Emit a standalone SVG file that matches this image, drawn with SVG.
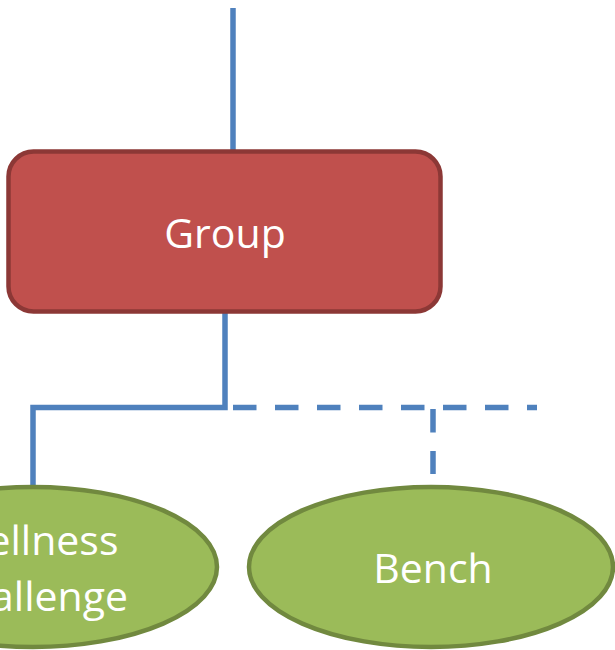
<svg xmlns="http://www.w3.org/2000/svg" width="615" height="650" viewBox="0 0 615 650">
<style>
.ln{fill:none;stroke:#4F81BD;stroke-width:5.5}
.dash{stroke-dasharray:23.5 18.5}
.txt{font-family:"Open Sans","Noto Sans",sans-serif;font-size:41px;fill:#FFFFFF;text-anchor:middle}
.oval{fill:#9BBB59;stroke:#71893F;stroke-width:4.5}
</style>
<g id="connectors">
<line class="ln" x1="233" y1="8" x2="233" y2="152"/>
<polyline class="ln" points="225,312 225,407.5 33,407.5 33,490"/>
<line class="ln dash" x1="233" y1="407.5" x2="537" y2="407.5"/>
<line class="ln dash" x1="433" y1="409" x2="433" y2="474"/>
</g>
<g id="group">
<rect x="8.5" y="151.5" width="432" height="160" rx="25" ry="25" fill="#C0504D" stroke="#8C3836" stroke-width="4.5"/>
<text class="txt" x="225" y="248">Group</text>
</g>
<g id="wellness">
<ellipse class="oval" cx="33" cy="567" rx="184" ry="80"/>
<text class="txt" x="34" y="555">Wellness</text>
<text class="txt" x="34" y="611">Challenge</text>
</g>
<g id="bench">
<ellipse class="oval" cx="431" cy="567" rx="182" ry="80"/>
<text class="txt" x="433" y="583">Bench</text>
</g>
</svg>
